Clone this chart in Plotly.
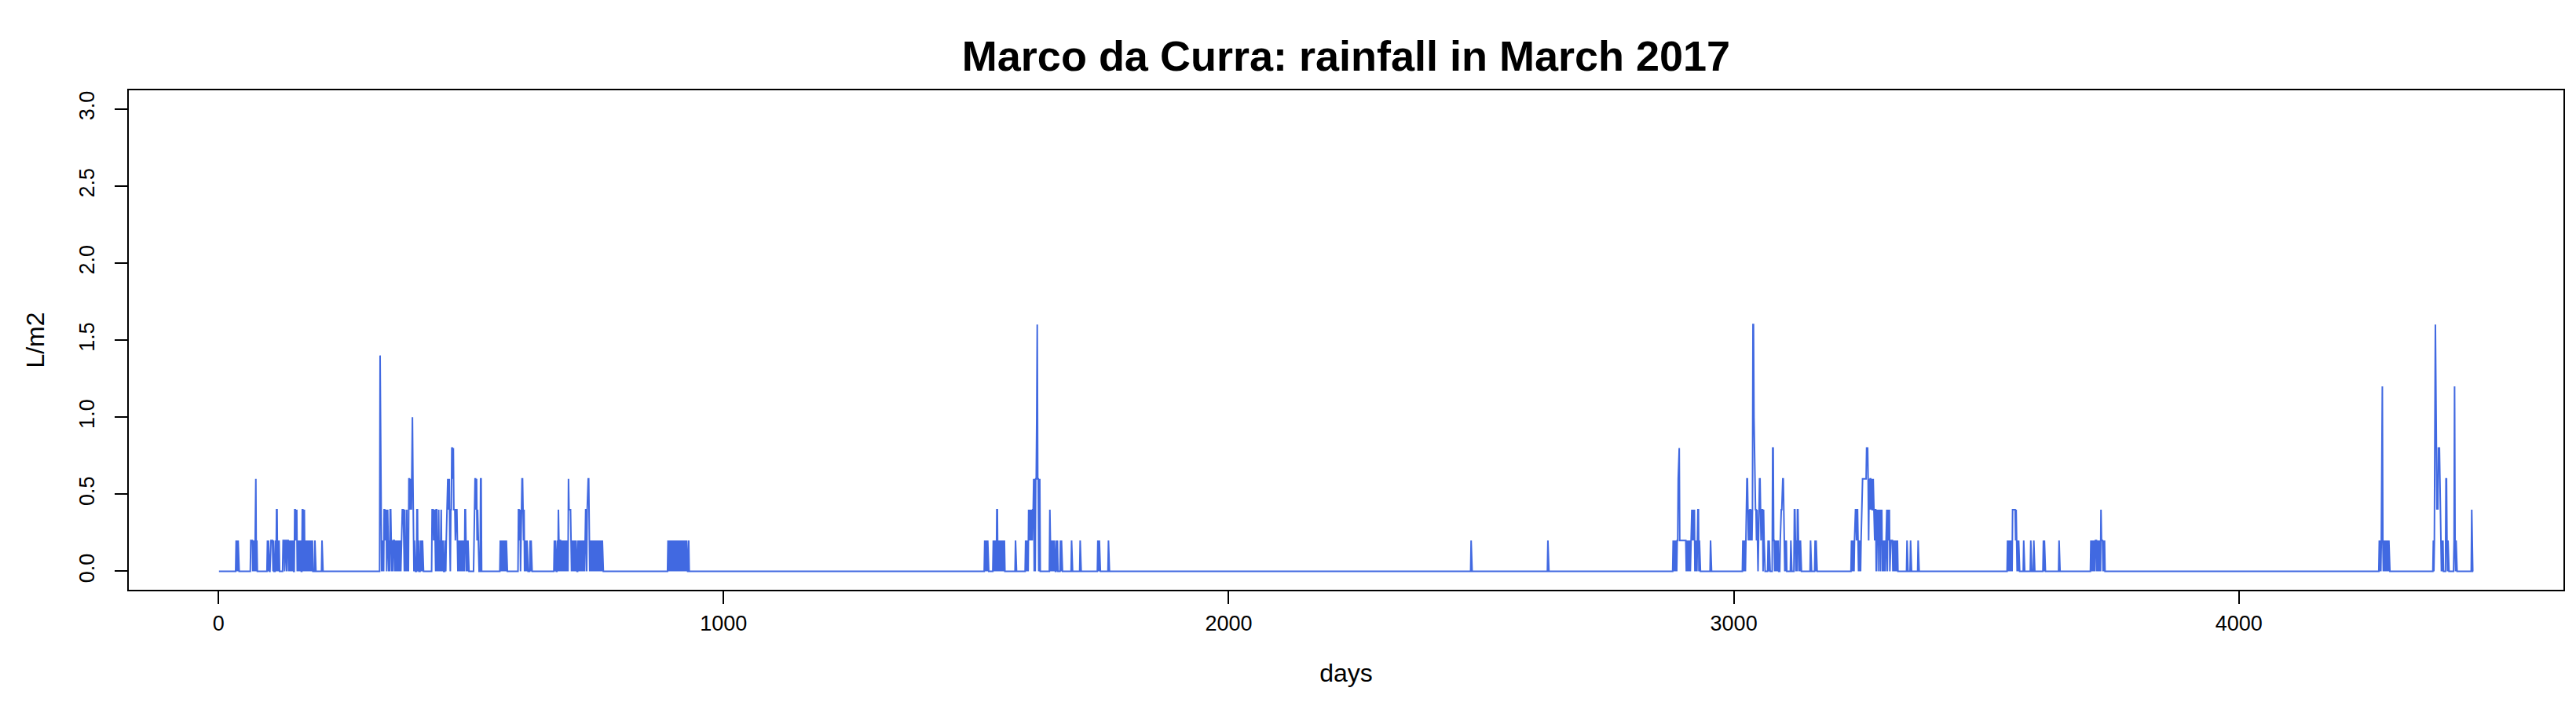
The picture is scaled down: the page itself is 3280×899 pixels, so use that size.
import numpy as np
import plotly.graph_objects as go

# ---- data: 10-minute rainfall readings for March 2017 (index 1..4464) ----
n_readings = 4464

# readings that are not zero (index, L/m2); every other reading is 0.0
rain_index = [
    35, 37, 39, 64, 65, 66, 67, 69, 71, 73, 74, 76, 97, 99,
    103, 104, 105, 106, 107, 109, 113, 115, 116, 118, 120,
    128, 129, 130, 132, 133, 134, 136, 137, 138, 140,
    142, 144, 146, 148, 151, 152, 153, 154, 155, 157, 159, 161, 163, 166, 167, 169, 170,
    172, 174, 176, 178, 180, 182, 184, 186, 191, 205,
    320, 321, 322, 324, 326, 328, 329, 330, 331, 332, 334, 335, 336, 338, 340, 341, 342,
    344, 346, 347, 348, 350, 352, 354, 356, 358, 360, 362, 363, 364, 365, 366, 367, 369,
    371, 373, 375, 377, 378, 379, 380, 381, 382, 383, 384, 385, 386, 388, 393, 394, 396,
    400, 402, 404,
    423, 424, 425, 426, 427, 428, 429, 431, 432, 434, 436, 438, 440, 441, 443, 445,
    449, 451, 452, 453, 454, 455, 456, 457, 458, 460, 461, 462, 463, 464, 465, 466, 467,
    468, 469, 470, 471, 472, 473, 475, 477, 479, 481, 483, 485, 488, 489, 490, 492, 494,
    506, 507, 508, 509, 510, 511, 512, 513, 514, 519, 520,
    558, 560, 562, 564, 566, 568, 570,
    594, 595, 596, 597, 599, 600, 601, 602, 603, 604, 605, 607, 609, 611, 617, 619,
    665, 667, 671, 673, 674, 676, 677, 679, 681, 683, 685, 687, 689, 691, 693, 694, 695,
    696, 697, 698, 700, 702, 704, 706, 708,
    712, 714, 716, 718, 720, 722, 724, 726, 727, 728, 730, 731, 732, 733, 734, 736, 738,
    740, 742, 744, 746, 748, 750, 752, 754, 756, 758, 760,
    890, 892, 894, 896, 898, 900, 902, 905, 907, 909, 911, 913, 915, 917, 919, 921, 923,
    925, 927, 931,
    1517, 1519, 1521, 1523, 1534, 1536, 1538, 1541, 1542, 1544, 1546, 1548, 1550, 1552,
    1554, 1556, 1578, 1598, 1600, 1602, 1604, 1605, 1606, 1607, 1608, 1609, 1610, 1611,
    1612, 1613, 1614, 1616, 1618, 1619, 1620, 1621, 1622, 1623, 1625, 1626,
    1646, 1647, 1649, 1651, 1653, 1655, 1659, 1661, 1667, 1669, 1689, 1706, 1741, 1744, 1762,
    2480, 2632,
    2880, 2882, 2884, 2886, 2888, 2889, 2890, 2891, 2892, 2893, 2894, 2895, 2896, 2897,
    2898, 2899, 2900, 2901, 2902, 2903, 2904, 2905, 2907, 2909, 2911, 2913, 2915, 2916,
    2917, 2918, 2919, 2920, 2921, 2922, 2924, 2926, 2928, 2929, 2930, 2932, 2954,
    3018, 3020, 3022, 3024, 3025, 3026, 3027, 3028, 3029, 3030, 3031, 3032, 3033, 3034,
    3035, 3036, 3037, 3038, 3039, 3040, 3041, 3042, 3043, 3044, 3045, 3046, 3049, 3050,
    3051, 3052, 3053, 3054, 3055, 3056, 3057, 3059, 3060, 3068, 3070, 3077, 3078, 3079,
    3080, 3082, 3084, 3086, 3088, 3092, 3093, 3094, 3095, 3096, 3097, 3098, 3099, 3100,
    3102, 3104, 3113, 3120, 3121, 3122, 3124, 3126, 3127, 3128, 3130, 3132, 3152, 3161, 3163,
    3233, 3235, 3237, 3239, 3240, 3241, 3242, 3243, 3244, 3245, 3246, 3248, 3250, 3252,
    3253, 3254, 3255, 3256, 3257, 3258, 3259, 3260, 3261, 3262, 3263, 3264, 3265, 3266,
    3267, 3268, 3269, 3270, 3271, 3272, 3273, 3274, 3275, 3276, 3277, 3278, 3279, 3280,
    3281, 3283, 3284, 3285, 3287, 3288, 3289, 3291, 3292, 3293, 3295, 3297, 3299, 3301,
    3302, 3303, 3305, 3306, 3307, 3308, 3310, 3311, 3312, 3313, 3314, 3316, 3318, 3320,
    3322, 3324, 3343, 3350, 3365,
    3542, 3544, 3546, 3548, 3550, 3552, 3553, 3554, 3555, 3556, 3557, 3558, 3559, 3560,
    3562, 3564, 3574, 3588, 3594, 3613, 3615, 3644,
    3707, 3709, 3711, 3713, 3716, 3717, 3718, 3720, 3722, 3724, 3725, 3727, 3728, 3729,
    3730, 3732, 3734,
    4278, 4280, 4282, 4283, 4284, 4285, 4287, 4289, 4291, 4293, 4295, 4297,
    4385, 4387, 4388, 4389, 4390, 4391, 4392, 4393, 4394, 4395, 4396, 4397, 4398, 4399,
    4400, 4402, 4404, 4410, 4411, 4412, 4414, 4426, 4427, 4428, 4430, 4461,
]

rain_mm = [
    0.2, 0.2, 0.2, 0.2, 0.2, 0.2, 0.2, 0.2, 0.2, 0.6, 0.6, 0.2, 0.2, 0.2,
    0.2, 0.2, 0.2, 0.2, 0.2, 0.2, 0.2, 0.4, 0.4, 0.2, 0.2,
    0.2, 0.2, 0.2, 0.2, 0.2, 0.2, 0.2, 0.2, 0.2, 0.2,
    0.2, 0.2, 0.2, 0.2, 0.4, 0.4, 0.2, 0.4, 0.4, 0.2, 0.2, 0.2, 0.2, 0.4, 0.4, 0.4, 0.4,
    0.2, 0.2, 0.2, 0.2, 0.2, 0.2, 0.2, 0.2, 0.2, 0.2,
    1.4, 0.8, 0.2, 0.2, 0.2, 0.4, 0.4, 0.2, 0.4, 0.4, 0.2, 0.4, 0.2, 0.2, 0.4, 0.4, 0.2,
    0.2, 0.2, 0.2, 0.2, 0.2, 0.2, 0.2, 0.2, 0.2, 0.2, 0.2, 0.2, 0.4, 0.4, 0.4, 0.2, 0.4,
    0.2, 0.4, 0.2, 0.6, 0.6, 0.4, 0.6, 0.6, 0.4, 0.6, 1.0, 0.6, 0.4, 0.2, 0.4, 0.4, 0.2,
    0.2, 0.2, 0.2,
    0.4, 0.4, 0.4, 0.2, 0.4, 0.4, 0.2, 0.4, 0.4, 0.2, 0.4, 0.2, 0.4, 0.4, 0.2, 0.2,
    0.2, 0.2, 0.4, 0.6, 0.6, 0.4, 0.6, 0.6, 0.2, 0.4, 0.4, 0.8, 0.8, 0.6, 0.8, 0.4, 0.4,
    0.4, 0.2, 0.4, 0.4, 0.4, 0.2, 0.2, 0.2, 0.2, 0.2, 0.2, 0.2, 0.4, 0.4, 0.2, 0.2, 0.2,
    0.2, 0.6, 0.6, 0.6, 0.4, 0.6, 0.2, 0.4, 0.2, 0.6, 0.6,
    0.2, 0.2, 0.2, 0.2, 0.2, 0.2, 0.2,
    0.4, 0.4, 0.2, 0.4, 0.2, 0.6, 0.6, 0.6, 0.4, 0.2, 0.4, 0.2, 0.2, 0.2, 0.2, 0.2,
    0.2, 0.2, 0.2, 0.4, 0.2, 0.2, 0.2, 0.2, 0.2, 0.2, 0.2, 0.2, 0.2, 0.2, 0.6, 0.4, 0.4,
    0.4, 0.4, 0.2, 0.2, 0.2, 0.2, 0.2, 0.2,
    0.2, 0.2, 0.2, 0.2, 0.2, 0.2, 0.2, 0.4, 0.4, 0.4, 0.4, 0.6, 0.6, 0.6, 0.2, 0.2, 0.2,
    0.2, 0.2, 0.2, 0.2, 0.2, 0.2, 0.2, 0.2, 0.2, 0.2, 0.2,
    0.2, 0.2, 0.2, 0.2, 0.2, 0.2, 0.2, 0.2, 0.2, 0.2, 0.2, 0.2, 0.2, 0.2, 0.2, 0.2, 0.2,
    0.2, 0.2, 0.2,
    0.2, 0.2, 0.2, 0.2, 0.2, 0.2, 0.2, 0.4, 0.4, 0.2, 0.2, 0.2, 0.2, 0.2,
    0.2, 0.2, 0.2, 0.2, 0.2, 0.2, 0.4, 0.2, 0.4, 0.2, 0.4, 0.2, 0.4, 0.2,
    0.4, 0.4, 0.6, 0.6, 0.6, 0.6, 1.0, 1.6, 0.6, 0.6, 0.6, 0.6,
    0.4, 0.2, 0.2, 0.2, 0.2, 0.2, 0.2, 0.2, 0.2, 0.2, 0.2, 0.2, 0.2, 0.2, 0.2,
    0.2, 0.2,
    0.2, 0.2, 0.2, 0.2, 0.2, 0.2, 0.6, 0.8, 0.8, 0.2, 0.2, 0.2, 0.2, 0.2,
    0.2, 0.2, 0.2, 0.2, 0.2, 0.2, 0.2, 0.2, 0.2, 0.2, 0.2, 0.2, 0.2, 0.4,
    0.4, 0.2, 0.4, 0.4, 0.2, 0.4, 0.2, 0.2, 0.4, 0.4, 0.4, 0.2, 0.2,
    0.2, 0.2, 0.2, 0.2, 0.6, 0.6, 0.6, 0.4, 0.2, 0.4, 0.2, 0.4, 0.4, 0.2,
    0.4, 0.2, 0.4, 1.6, 1.6, 1.0, 0.8, 0.4, 0.4, 0.4, 0.2, 0.4, 0.2, 0.6,
    0.6, 0.6, 0.4, 0.2, 0.4, 0.4, 0.4, 0.4, 0.2, 0.2, 0.2, 0.8, 0.8, 0.2,
    0.2, 0.2, 0.2, 0.2, 0.2, 0.2, 0.4, 0.4, 0.4, 0.6, 0.6, 0.6, 0.2, 0.2,
    0.2, 0.2, 0.2, 0.4, 0.4, 0.2, 0.2, 0.4, 0.4, 0.2, 0.2, 0.2, 0.2, 0.2, 0.2,
    0.2, 0.2, 0.2, 0.2, 0.4, 0.4, 0.4, 0.2, 0.4, 0.4, 0.2, 0.2, 0.2, 0.2,
    0.4, 0.6, 0.6, 0.6, 0.6, 0.6, 0.6, 0.6, 0.6, 0.6, 0.8, 0.8, 0.8, 0.6,
    0.2, 0.6, 0.4, 0.6, 0.6, 0.4, 0.6, 0.4, 0.4, 0.6, 0.4, 0.4, 0.2, 0.4,
    0.4, 0.4, 0.2, 0.4, 0.4, 0.2, 0.4, 0.4, 0.2, 0.4, 0.2, 0.2, 0.2, 0.2,
    0.4, 0.4, 0.4, 0.2, 0.4, 0.4, 0.2, 0.2, 0.2, 0.2, 0.2, 0.2, 0.2, 0.2,
    0.2, 0.2, 0.2, 0.2, 0.2,
    0.2, 0.2, 0.2, 0.2, 0.2, 0.4, 0.4, 0.4, 0.4, 0.4, 0.4, 0.2, 0.4, 0.2,
    0.2, 0.2, 0.2, 0.2, 0.2, 0.2, 0.2, 0.2,
    0.2, 0.2, 0.2, 0.2, 0.2, 0.2, 0.2, 0.2, 0.2, 0.2, 0.2, 0.4, 0.2, 0.2,
    0.2, 0.2, 0.2,
    0.2, 0.2, 0.2, 0.6, 1.2, 0.2, 0.2, 0.2, 0.2, 0.2, 0.2, 0.2,
    0.2, 0.2, 1.6, 1.6, 1.2, 0.8, 0.4, 0.6, 0.4, 0.8, 0.8, 0.8, 0.6, 0.2,
    0.2, 0.2, 0.2, 0.6, 0.6, 0.2, 0.2, 0.2, 1.2, 0.2, 0.2, 0.4,
]

x_tick_values = [0, 1000, 2000, 3000, 4000]
y_tick_values = [0.0, 0.5, 1.0, 1.5, 2.0, 2.5, 3.0]
y_tick_labels = ["0.0", "0.5", "1.0", "1.5", "2.0", "2.5", "3.0"]

title_text = "Marco da Curra: rainfall in March 2017"
x_label = "days"
y_label = "L/m2"

# ---- build the full series ----
assert len(rain_index) == len(rain_mm)
days = np.arange(1, n_readings + 1)
rain = np.zeros(n_readings)
for i, v in zip(rain_index, rain_mm):
    rain[i - 1] = v

FONT = "Liberation Sans, Arial, Helvetica, sans-serif"

fig = go.Figure()
fig.add_trace(go.Scatter(
    x=days, y=rain, mode="lines",
    line=dict(color="#4169E1", width=2),
    hoverinfo="x+y", showlegend=False,
))

x_span = n_readings - 1
fig.update_layout(
    width=3280, height=899,
    margin=dict(l=156, r=24, t=107, b=156, pad=0),
    paper_bgcolor="white", plot_bgcolor="white",
    font=dict(family=FONT, color="black", size=27),
    title=dict(
        text="<b>" + title_text + "</b>",
        font=dict(family=FONT, size=54, color="black"),
        x=0.5, xref="paper", xanchor="center",
        y=1 - 63 / 899, yref="container", yanchor="middle",
    ),
    xaxis=dict(
        range=[1 - 0.04 * x_span, n_readings + 0.04 * x_span],
        tickmode="array", tickvals=x_tick_values,
        ticks="outside", ticklen=16, tickwidth=1.5, tickcolor="black",
        showline=True, mirror=True, linecolor="black", linewidth=2,
        showgrid=False, zeroline=False,
        tickfont=dict(size=27, family=FONT),
        ticklabelstandoff=2,
        title=dict(text=x_label, font=dict(size=32, family=FONT), standoff=37),
    ),
    yaxis=dict(
        range=[-0.12, 3.12],
        tickmode="array", tickvals=y_tick_values, ticktext=y_tick_labels,
        tickangle=-90,
        ticks="outside", ticklen=16, tickwidth=1.5, tickcolor="black",
        showline=True, mirror=True, linecolor="black", linewidth=2,
        showgrid=False, zeroline=False,
        tickfont=dict(size=27, family=FONT),
        ticklabelstandoff=15,
        title=dict(text=y_label, font=dict(size=32, family=FONT), standoff=30),
    ),
)

fig.write_html("out.html")
